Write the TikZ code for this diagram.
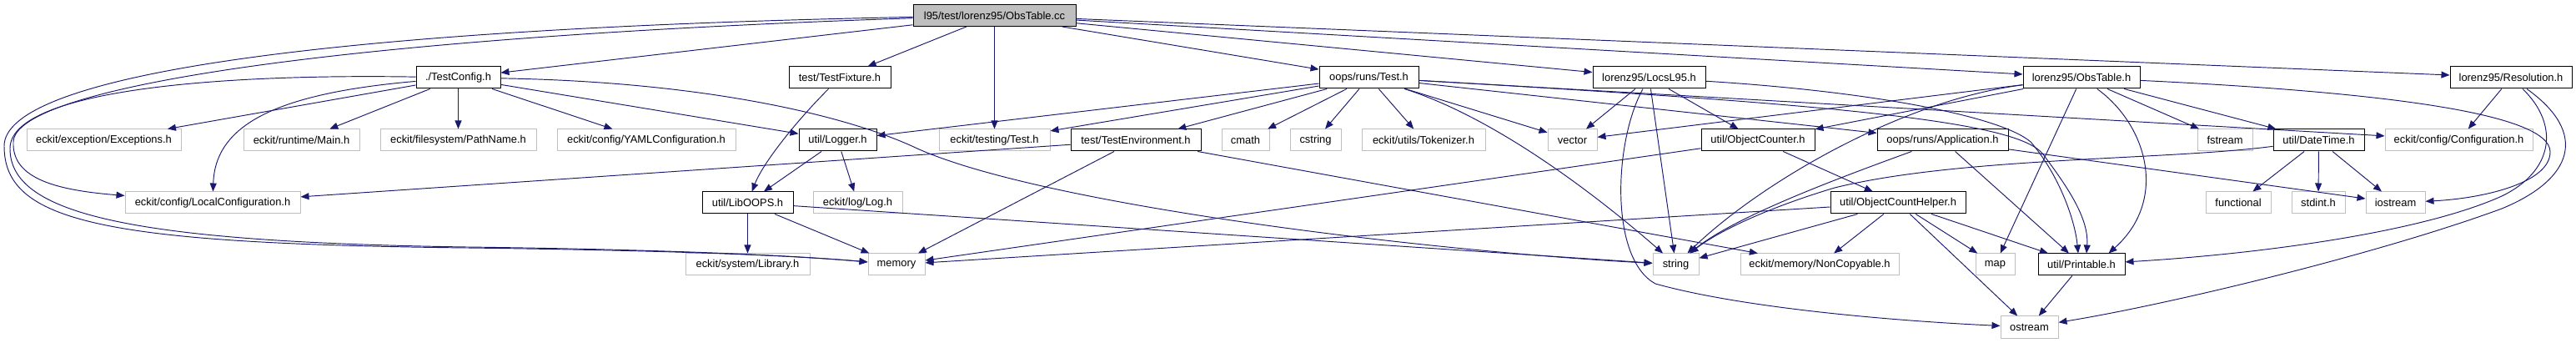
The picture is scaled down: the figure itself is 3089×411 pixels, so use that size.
\documentclass[tikz,border=0pt]{standalone}
\usepackage{fontspec}
\setmainfont{Liberation Sans}
\usetikzlibrary{arrows.meta,calc}
\definecolor{edgec}{HTML}{191970}
\definecolor{grayb}{HTML}{BFBFBF}
\definecolor{grayf}{HTML}{BFBFBF}
\begin{document}
\begin{tikzpicture}[x=1pt,y=-1pt,
  box/.style={draw=black, line width=1.0pt, minimum height=26pt, inner sep=0pt,
    font=\fontsize{12.9}{15}\selectfont, anchor=center},
  ubox/.style={box, draw=grayb},
  rootbox/.style={box, fill=grayf},
  edge/.style={draw=edgec, line width=0.95pt, -{Triangle[length=10pt,width=8pt]}}
]
\fill[white] (0,0) rectangle (3089,411);
\useasboundingbox (0,0) rectangle (3089,411);

% row 0
\node[rootbox, minimum width=195pt] (cc) at (1192.5,18.5) {l95/test/lorenz95/ObsTable.cc};
% row 1
\node[box, minimum width=101pt] (tcfg) at (549.5,93) {./TestConfig.h};
\node[box, minimum width=122pt] (tfix) at (1007,93) {test/TestFixture.h};
\node[box, minimum width=119pt] (otest) at (1641.5,93) {oops/runs/Test.h};
\node[box, minimum width=135pt] (locs) at (1977.5,93) {lorenz95/LocsL95.h};
\node[box, minimum width=140pt] (obst) at (2496,93) {lorenz95/ObsTable.h};
\node[box, minimum width=146pt] (res) at (3011,93) {lorenz95/Resolution.h};
% row 2
\node[ubox, minimum width=185pt] (exc) at (124.5,168) {eckit/exception/Exceptions.h};
\node[ubox, minimum width=139pt] (main) at (361.5,168) {eckit/runtime/Main.h};
\node[ubox, minimum width=187pt] (path) at (549.5,168) {eckit/filesystem/PathName.h};
\node[ubox, minimum width=214pt] (yaml) at (775,168) {eckit/config/YAMLConfiguration.h};
\node[box, minimum width=93pt] (logger) at (1004.5,168) {util/Logger.h};
\node[ubox, minimum width=133pt] (ttest) at (1192.5,168) {eckit/testing/Test.h};
\node[box, minimum width=156pt] (tenv) at (1362,168) {test/TestEnvironment.h};
\node[ubox, minimum width=57pt] (cmath) at (1493.5,168) {cmath};
\node[ubox, minimum width=61pt] (cstring) at (1577.5,168) {cstring};
\node[ubox, minimum width=148pt] (tok) at (1707,168) {eckit/utils/Tokenizer.h};
\node[ubox, minimum width=59pt] (vector) at (1885.5,168) {vector};
\node[box, minimum width=136pt] (ocnt) at (2108,168) {util/ObjectCounter.h};
\node[box, minimum width=157pt] (app) at (2329.5,168) {oops/runs/Application.h};
\node[ubox, minimum width=66pt] (fstream) at (2668,168) {fstream};
\node[box, minimum width=109pt] (dt) at (2780.5,168) {util/DateTime.h};
\node[ubox, minimum width=177pt] (conf) at (2948.5,168) {eckit/config/Configuration.h};
% row 3
\node[ubox, minimum width=210pt] (lcfg) at (255,243) {eckit/config/LocalConfiguration.h};
\node[box, minimum width=109pt] (liboops) at (896.5,243) {util/LibOOPS.h};
\node[ubox, minimum width=107pt] (log) at (1028.5,243) {eckit/log/Log.h};
\node[box, minimum width=162pt] (och) at (2276,243) {util/ObjectCountHelper.h};
\node[ubox, minimum width=78pt] (functional) at (2684,243) {functional};
\node[ubox, minimum width=64pt] (stdint) at (2780,243) {stdint.h};
\node[ubox, minimum width=71pt] (iostream) at (2872.5,243) {iostream};
% row 4
\node[ubox, minimum width=149pt] (library) at (896.5,317) {eckit/system/Library.h};
\node[ubox, minimum width=68pt] (memory) at (1075,317) {memory};
\node[ubox, minimum width=55pt] (string) at (2009.5,317) {string};
\node[ubox, minimum width=190pt] (noncopy) at (2182,317) {eckit/memory/NonCopyable.h};
\node[ubox, minimum width=47pt] (map) at (2392.5,317) {map};
\node[box, minimum width=104pt] (printable) at (2496,317) {util/Printable.h};
% row 5
\node[ubox, minimum width=69pt] (ostream) at (2433.5,392) {ostream};

% straight connectors
\foreach \a/\b in {cc/tcfg, cc/tfix, cc/ttest, cc/otest, cc/locs, cc/obst, cc/res,
  tcfg/exc, tcfg/main, tcfg/path, tcfg/yaml, tcfg/logger,
  logger/liboops, logger/log, liboops/library, liboops/memory, liboops/string,
  tenv/lcfg, tenv/memory, tenv/noncopy,
  otest/logger, otest/ttest, otest/tenv, otest/cmath, otest/cstring, otest/tok,
  otest/vector, otest/app, otest/conf,
  locs/vector, locs/string, locs/ocnt,
  obst/vector, obst/ocnt, obst/map, obst/fstream, obst/dt,
  res/conf, app/printable, app/iostream,
  dt/functional, dt/stdint, dt/iostream,
  ocnt/och, ocnt/memory,
  och/memory, och/string, och/noncopy, och/map, och/printable, och/ostream,
  printable/ostream}
  \draw[edge] (\a) -- (\b);

% curved connectors
\draw[edge] (cc) .. controls (350,35) and (5,95) .. (5,175)
  .. controls (5,265) and (120,292) .. (560,297)
  .. controls (800,300) and (950,306) .. (memory);
\draw[edge] (tcfg) .. controls (250,88) and (12,110) .. (12,178)
  .. controls (12,255) and (150,290) .. (560,296)
  .. controls (800,299) and (950,306) .. (memory);
\draw[edge] (cc) .. controls (400,45) and (18,105) .. (16,170)
  .. controls (14,215) and (70,228) .. (lcfg);
\draw[edge] (tcfg) .. controls (330,112) and (258,150) .. (lcfg);
\draw[edge] (tcfg) .. controls (850,98) and (1020,140) .. (1100,178)
  .. controls (1250,245) and (1700,300) .. (string);
\draw[edge] (tfix) .. controls (955,145) and (915,195) .. (liboops);
\draw[edge] (otest) .. controls (1790,140) and (1910,230) .. (string);
\draw[edge] (otest) .. controls (2200,125) and (2420,145) .. (2450,185)
  .. controls (2480,225) and (2505,262) .. ($(printable.north)+(6,0)$);
\draw[edge] (locs) .. controls (2250,110) and (2400,140) .. (2435,170)
  .. controls (2468,208) and (2488,262) .. ($(printable.north)+(-4,0)$);
\draw[edge] (locs) .. controls (1935,170) and (1930,310) .. (1985,340)
  .. controls (2100,372) and (2300,386) .. (ostream);
\draw[edge] (obst) .. controls (2280,120) and (2110,220) .. (string);
\draw[edge] (obst) .. controls (2575,150) and (2600,240) .. ($(printable.north east)+(-20,0)$);
\draw[edge] (obst) .. controls (2850,110) and (3058,135) .. (3058,182)
  .. controls (3058,220) and (2975,238) .. (iostream);
\draw[edge] (res) .. controls (3070,150) and (3062,205) .. (3000,235)
  .. controls (2900,280) and (2700,305) .. (printable);
\draw[edge] (res) .. controls (3105,160) and (3085,215) .. (3000,250)
  .. controls (2850,305) and (2600,365) .. (ostream);
\draw[edge] (dt) .. controls (2600,192) and (2350,188) .. (2200,225)
  .. controls (2100,255) and (2050,285) .. (string);
\draw[edge] (app) .. controls (2200,215) and (2080,260) .. (string);
\end{tikzpicture}
\end{document}
